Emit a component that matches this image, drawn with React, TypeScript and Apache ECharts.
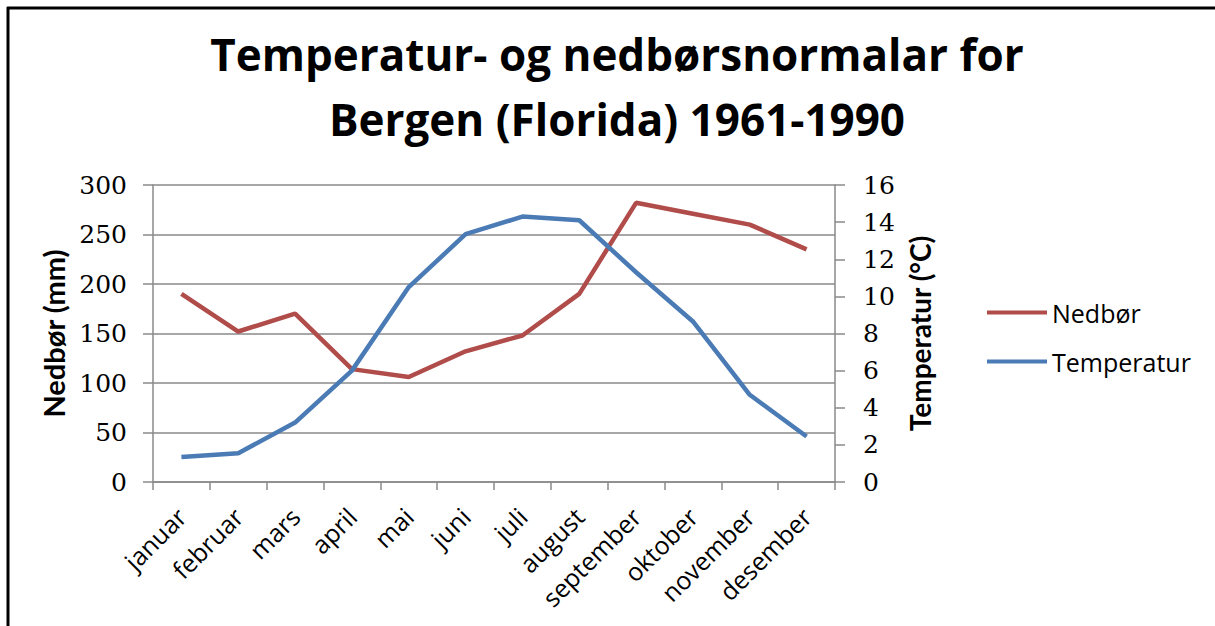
import React, { useEffect, useRef } from "react";
import * as echarts from "echarts";

const months = ["januar", "februar", "mars", "april", "mai", "juni", "juli", "august", "september", "oktober", "november", "desember"];
const nedbor = [190, 152, 170, 114, 106, 132, 148, 190, 282, 271, 260, 235];
const temperatur = [1.35, 1.55, 3.2, 6.0, 10.5, 13.35, 14.3, 14.1, 11.3, 8.65, 4.7, 2.45];
const leftTicks = { min: 0, max: 300, interval: 50 };
const rightTicks = { min: 0, max: 16, interval: 2 };

const RED = "#B04C4A";
const BLUE = "#4A7BB5";
const GRID = "#8A8A8A";

export default function App() {
  const ref = useRef<HTMLDivElement>(null);
  useEffect(() => {
    if (!ref.current) return;
    const chart = echarts.init(ref.current, null, { renderer: "svg" });
    chart.setOption({
      animation: false,
      backgroundColor: "#fff",
      title: {
        text: "Temperatur- og nedbørsnormalar for\nBergen (Florida) 1961-1990",
        left: 612,
        textAlign: "center",
        top: 16,
        textStyle: { fontFamily: "Open Sans", fontWeight: "bold", fontSize: 44, lineHeight: 65, color: "#000" },
      },
      legend: {
        orient: "vertical",
        left: 982,
        top: 295,
        icon: "rect",
        itemWidth: 60,
        itemHeight: 4,
        itemGap: 24,
        textStyle: { fontFamily: "Open Sans", fontSize: 25, color: "#000" },
        data: ["Nedbør", "Temperatur"],
      },
      grid: { left: 153, right: 380, top: 185, bottom: 144, containLabel: false },
      xAxis: {
        type: "category",
        data: months,
        boundaryGap: true,
        axisLine: { lineStyle: { color: GRID, width: 1.5 } },
        axisTick: { show: true, length: 8, lineStyle: { color: GRID, width: 1.5 } },
        axisLabel: { rotate: 45, margin: 30, fontFamily: "Open Sans", fontSize: 25, color: "#000", interval: 0 },
      },
      yAxis: [
        {
          type: "value",
          name: "Nedbør (mm)",
          nameLocation: "middle",
          nameGap: 83,
          nameRotate: 90,
          nameTextStyle: { fontFamily: "Lato", fontWeight: "bold", fontSize: 29, color: "#000" },
          ...leftTicks,
          position: "left",
          axisLine: { show: true, lineStyle: { color: GRID, width: 1.5 } },
          axisTick: { show: true, length: 10, lineStyle: { color: GRID, width: 1.5 } },
          axisLabel: { margin: 26, fontFamily: "DejaVu Serif", fontSize: 25, color: "#000" },
          splitLine: { show: true, lineStyle: { color: GRID, width: 1.5 } },
        },
        {
          type: "value",
          name: "Temperatur (°C)",
          nameLocation: "middle",
          nameGap: 71,
          nameRotate: 90,
          nameTextStyle: { fontFamily: "Lato", fontWeight: "bold", fontSize: 28, color: "#000" },
          ...rightTicks,
          position: "right",
          axisLine: { show: true, lineStyle: { color: GRID, width: 1.5 } },
          axisTick: { show: true, length: 10, lineStyle: { color: GRID, width: 1.5 } },
          axisLabel: { margin: 28, fontFamily: "DejaVu Serif", fontSize: 25, color: "#000" },
          splitLine: { show: false },
        },
      ],
      series: [
        {
          name: "Nedbør",
          type: "line",
          yAxisIndex: 0,
          data: nedbor,
          symbol: "none",
          lineStyle: { color: RED, width: 4.5 },
          itemStyle: { color: RED },
        },
        {
          name: "Temperatur",
          type: "line",
          yAxisIndex: 1,
          data: temperatur,
          symbol: "none",
          lineStyle: { color: BLUE, width: 4.5 },
          itemStyle: { color: BLUE },
        },
      ],
      graphic: [
        { type: "line", shape: { x1: 8, y1: 7, x2: 8, y2: 630 }, style: { stroke: "#000", lineWidth: 3 } },
        { type: "line", shape: { x1: 7, y1: 8, x2: 1220, y2: 8 }, style: { stroke: "#000", lineWidth: 3 } },
      ],
    });
    return () => chart.dispose();
  }, []);
  return <div ref={ref} style={{ position: "fixed", left: 0, top: 0, width: 1215, height: 626 }} />;
}
